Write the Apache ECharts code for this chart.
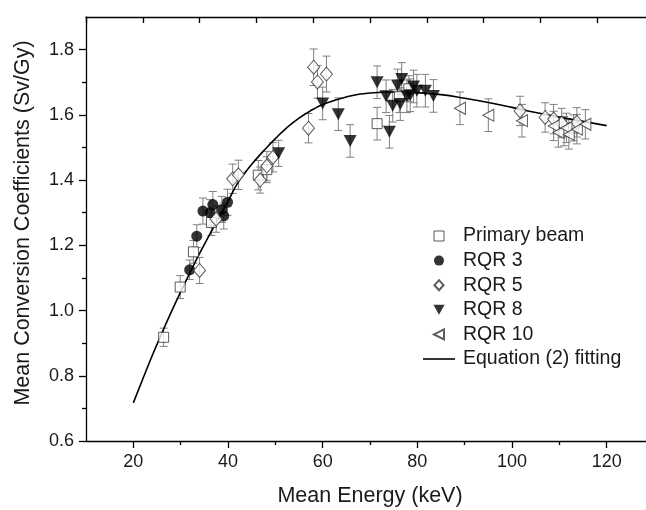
<!DOCTYPE html>
<html>
<head>
<meta charset="utf-8">
<script src="https://cdn.jsdelivr.net/npm/echarts@6/dist/echarts.min.js"></script>
<style>
  html, body { margin: 0; padding: 0; background: #fff; }
  #chart { width: 646px; height: 510px; }
</style>
</head>
<body>
<div id="chart"></div>
<script>
// [energy keV, coefficient Sv/Gy, error]
const primaryBeam = [
  [26.4, 0.918, 0.028], [29.9, 1.072, 0.035], [32.7, 1.180, 0.035], [36.5, 1.270, 0.040],
  [46.4, 1.415, 0.045], [48.2, 1.432, 0.040], [71.5, 1.573, 0.050], [76.2, 1.657, 0.050],
  [78.2, 1.680, 0.040], [111.0, 1.550, 0.045], [113.0, 1.560, 0.040]
]
const rqr3 = [
  [31.9, 1.125, 0.030], [33.4, 1.228, 0.035], [34.7, 1.305, 0.040], [36.2, 1.300, 0.040],
  [36.8, 1.325, 0.040], [38.7, 1.310, 0.040], [39.1, 1.290, 0.040], [39.9, 1.332, 0.040]
]
const rqr5 = [
  [34.0, 1.123, 0.040], [37.5, 1.280, 0.040], [41.0, 1.404, 0.045], [42.2, 1.416, 0.045],
  [46.8, 1.400, 0.040], [48.2, 1.443, 0.045], [49.5, 1.470, 0.045], [57.0, 1.559, 0.045],
  [58.1, 1.746, 0.056], [58.9, 1.701, 0.050], [60.8, 1.725, 0.055], [101.7, 1.612, 0.045],
  [107.0, 1.592, 0.045], [108.8, 1.587, 0.045], [110.5, 1.575, 0.045], [113.7, 1.577, 0.045]
]
const rqr8 = [
  [50.7, 1.482, 0.040], [60.0, 1.635, 0.050], [63.3, 1.602, 0.050], [65.8, 1.520, 0.050],
  [71.5, 1.700, 0.050], [73.4, 1.657, 0.050], [74.1, 1.548, 0.050], [74.8, 1.628, 0.050],
  [75.8, 1.690, 0.050], [76.4, 1.633, 0.050], [76.7, 1.710, 0.050], [77.8, 1.657, 0.050],
  [78.5, 1.660, 0.050], [79.2, 1.687, 0.050], [79.9, 1.674, 0.050], [81.7, 1.674, 0.050],
  [83.4, 1.658, 0.050]
]
const rqr10 = [
  [89.0, 1.620, 0.050], [95.0, 1.599, 0.050], [102.1, 1.582, 0.050], [108.8, 1.566, 0.045],
  [109.8, 1.546, 0.045], [111.5, 1.560, 0.045], [112.0, 1.540, 0.045], [113.7, 1.556, 0.045],
  [115.5, 1.571, 0.045]
]
// equation (2) fit
const fitCurve = [
  [20, 0.717], [22, 0.790], [24, 0.862], [26, 0.930], [28, 0.995], [30, 1.057], [32, 1.117],
  [34, 1.175], [36, 1.230], [38, 1.283], [40, 1.335], [42, 1.390], [44, 1.430], [46, 1.465],
  [48, 1.497], [50, 1.527], [52, 1.555], [55, 1.590], [58, 1.617], [60, 1.632], [65, 1.655],
  [70, 1.667], [75, 1.670], [80, 1.668], [85, 1.662], [90, 1.651], [95, 1.638], [100, 1.623],
  [105, 1.607], [110, 1.593], [115, 1.580], [120, 1.567]
]

const xTicks = [20, 40, 60, 80, 100, 120]
const xMinorTicks = [30, 50, 70, 90, 110]
const yTicks = [0.6, 0.8, 1.0, 1.2, 1.4, 1.6, 1.8]
const yMinorTicks = [0.7, 0.9, 1.1, 1.3, 1.5, 1.7]

const font = 'Liberation Sans, Arial, sans-serif'
const ink = '#1a1a1a'
const barColor = '#808080'

const errorData = [].concat(primaryBeam, rqr3, rqr5, rqr8, rqr10)
  .map(d => [d[0], d[1] - d[2], d[1] + d[2]])

const chart = echarts.init(document.getElementById('chart'), null, { renderer: 'canvas' })

const hollow = { color: '#fff', borderColor: '#333', borderWidth: 1 }
const triDown = 'path://M0,0 L10,0 L5,9 Z'
const triLeft = 'path://M10,0 L0,5 L10,10 Z'

chart.setOption({
  animation: false,
  backgroundColor: '#fff',
  grid: { left: 86, top: 17, width: 568, height: 424, containLabel: false, outerBoundsMode: 'none' },
  legend: {
    orient: 'vertical',
    left: 418,
    top: 221,
    itemWidth: 32,
    itemHeight: 10,
    itemGap: 4.6,
    symbolKeepAspect: true,
    data: [
      { name: 'Primary beam', icon: 'path://M0,0 L8,0 L8,8 L0,8 Z', itemStyle: { borderWidth: 1 } },
      { name: 'RQR 3', icon: 'circle' },
      { name: 'RQR 5', icon: 'path://M5,0 L10,5.5 L5,11 L0,5.5 Z' },
      { name: 'RQR 8', icon: triDown },
      { name: 'RQR 10', icon: triLeft },
      { name: 'Equation (2) fitting', icon: 'path://M0,0 L32,0 L32,1.6 L0,1.6 Z' }
    ],
    textStyle: { fontFamily: font, fontSize: 19.5, color: ink, lineHeight: 20, padding: [0, 0, 0, 3] }
  },
  xAxis: [
    {
      type: 'value', min: 10, max: 130, position: 'bottom',
      name: 'Mean Energy (keV)', nameLocation: 'middle', nameGap: 44,
      nameTextStyle: { fontFamily: font, fontSize: 21.5, color: ink },
      axisLine: { lineStyle: { color: '#000', width: 1.3 } },
      axisTick: { customValues: xTicks, length: 7, lineStyle: { color: '#000', width: 1.3 } },
      axisLabel: { customValues: xTicks, fontFamily: font, fontSize: 18, color: ink, margin: 12 },
      splitLine: { show: false }
    },
    {
      type: 'value', min: 10, max: 130, position: 'bottom',
      axisLine: { show: false },
      axisTick: { customValues: xMinorTicks, length: 4, lineStyle: { color: '#000', width: 1.3 } },
      axisLabel: { show: false },
      splitLine: { show: false }
    },
    {
      type: 'value', min: 0, max: 10, interval: 1, position: 'top',
      axisLine: { lineStyle: { color: '#000', width: 1.3 } },
      axisTick: { inside: true, length: 6, lineStyle: { color: '#000', width: 1.3 } },
      axisLabel: { show: false },
      splitLine: { show: false }
    }
  ],
  yAxis: [
    {
      type: 'value', min: 0.6, max: 1.9, position: 'left',
      name: 'Mean Conversion Coefficients (Sv/Gy)', nameLocation: 'middle', nameGap: 52,
      nameTextStyle: { fontFamily: font, fontSize: 21.5, color: ink, padding: [0, 0, 0, 12] },
      axisLine: { show: true, lineStyle: { color: '#000', width: 1.3 } },
      axisTick: { show: true, customValues: yTicks, length: 7, lineStyle: { color: '#000', width: 1.3 } },
      axisLabel: {
        customValues: yTicks, fontFamily: font, fontSize: 18, color: ink, margin: 12,
        formatter: v => v.toFixed(1)
      },
      splitLine: { show: false }
    },
    {
      type: 'value', min: 0.6, max: 1.9, position: 'left',
      axisLine: { show: false },
      axisTick: { show: true, customValues: yMinorTicks, length: 4, lineStyle: { color: '#000', width: 1.3 } },
      axisLabel: { show: false },
      splitLine: { show: false }
    }
  ],
  series: [
    {
      name: 'errors',
      type: 'custom',
      z: 1,
      data: errorData,
      renderItem: (params, api) => {
        const x = api.value(0)
        const lo = api.coord([x, api.value(1)])
        const hi = api.coord([x, api.value(2)])
        const cap = 4
        const style = { stroke: barColor, lineWidth: 1 }
        return {
          type: 'group',
          children: [
            { type: 'line', shape: { x1: lo[0], y1: lo[1], x2: hi[0], y2: hi[1] }, style },
            { type: 'line', shape: { x1: lo[0] - cap, y1: lo[1], x2: lo[0] + cap, y2: lo[1] }, style },
            { type: 'line', shape: { x1: hi[0] - cap, y1: hi[1], x2: hi[0] + cap, y2: hi[1] }, style }
          ]
        }
      }
    },
    {
      name: 'Equation (2) fitting', type: 'line', data: fitCurve, smooth: true,
      symbol: 'none', z: 3,
      lineStyle: { color: '#000', width: 1.6 }, itemStyle: { color: '#000' }
    },
    {
      name: 'Primary beam', type: 'scatter', data: primaryBeam, symbol: 'rect', symbolSize: 10,
      z: 4, itemStyle: hollow
    },
    {
      name: 'RQR 3', type: 'scatter', data: rqr3, symbol: 'circle', symbolSize: 11,
      z: 4, itemStyle: { color: '#000' }
    },
    {
      name: 'RQR 5', type: 'scatter', data: rqr5, symbol: 'diamond', symbolSize: [12, 14],
      z: 4, itemStyle: hollow
    },
    {
      name: 'RQR 8', type: 'scatter', data: rqr8, symbol: triDown, symbolSize: [13, 12],
      z: 4, itemStyle: { color: '#000' }
    },
    {
      name: 'RQR 10', type: 'scatter', data: rqr10, symbol: triLeft, symbolSize: [11, 12],
      z: 4, itemStyle: hollow
    }
  ]
})
</script>
</body>
</html>
